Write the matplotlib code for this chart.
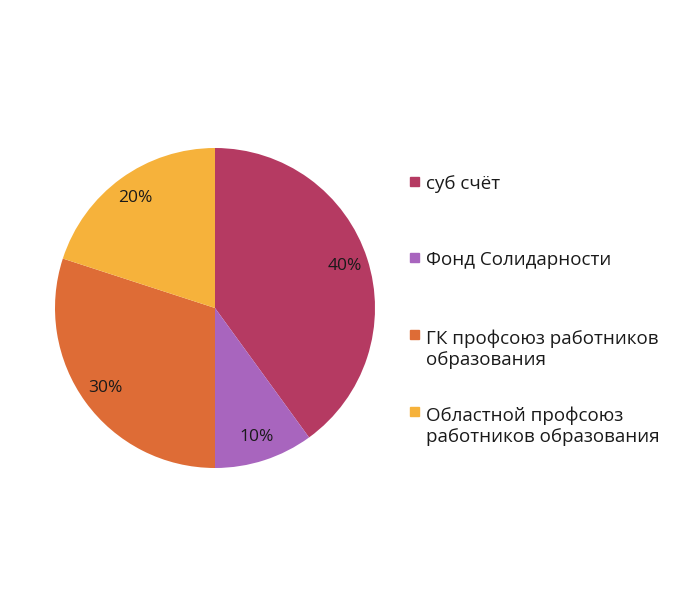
import matplotlib.pyplot as plt
from matplotlib.patches import Rectangle

# data
labels = ['суб счёт', 'Фонд Солидарности',
          'ГК профсоюз работников\nобразования',
          'Областной профсоюз\nработников образования']
shares = [40, 10, 30, 20]
colors = ['#B53A62', '#A865BE', '#DE6C36', '#F6B23B']

# legend: baseline of first line and of last line (pixels from top)
first_base_px = [189, 265, 342, 419]
last_base_px = [189, 265, 365, 442]

W, H = 700, 614
fig = plt.figure(figsize=(W / 100, H / 100), dpi=100)
fig.patch.set_facecolor('white')

cx, cy, r = 215, 308, 160
ax = fig.add_axes([(cx - r) / W, (H - cy - r) / H, 2 * r / W, 2 * r / H])
wedges, texts, autotexts = ax.pie(
    shares, colors=colors, startangle=90, counterclock=False,
    autopct='%d%%', pctdistance=0.85, radius=1,
    wedgeprops=dict(linewidth=0),
    textprops=dict(fontsize=12.5, color='#1a1a1a', family='Open Sans'))
ax.set_xlim(-1, 1)
ax.set_ylim(-1, 1)
ax.axis('off')

# hand-drawn legend
sq = 9
for lab, col, y1, y2 in zip(labels, colors, first_base_px, last_base_px):
    fig.patches.append(Rectangle((410 / W, (H - y1 + 3) / H), sq / W, sq / H,
                                 transform=fig.transFigure, color=col))
    fig.text(426 / W, (H - y2) / H, lab, fontsize=13.5, family='Open Sans',
             color='#1a1a1a', va='baseline', ha='left', linespacing=1.2)

fig.savefig('out.png', dpi=100)
